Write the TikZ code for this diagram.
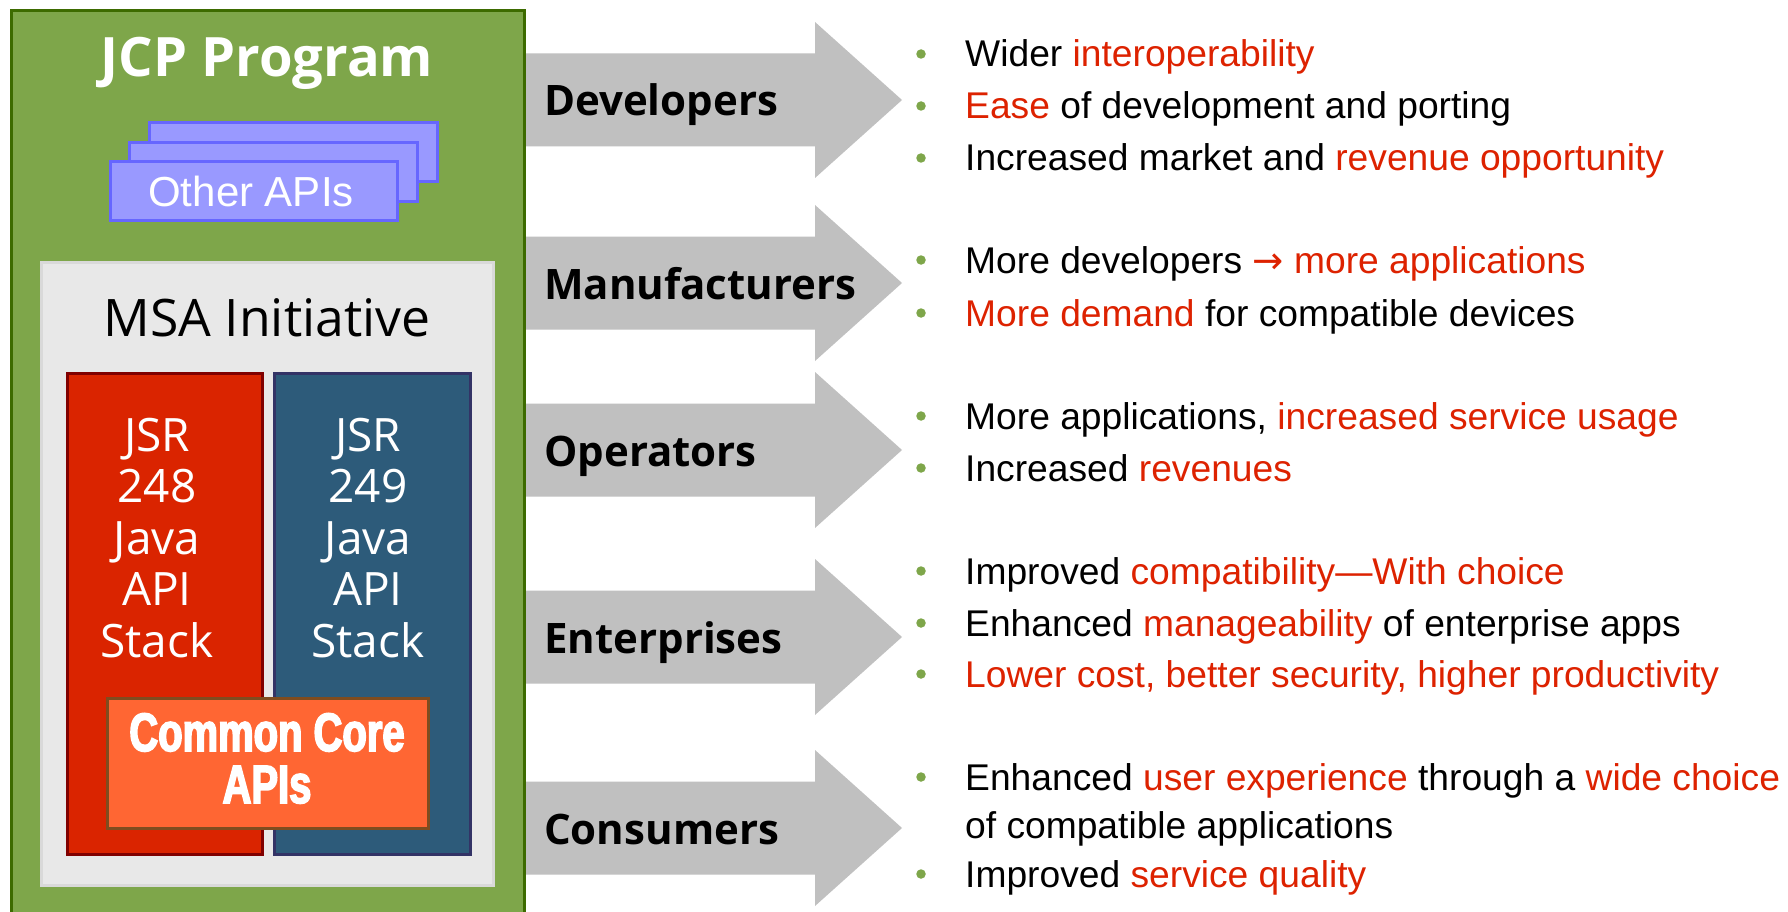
\documentclass[tikz,border=0pt]{standalone}
\usepackage{fontspec}
\setmainfont{Liberation Sans}
\newfontfamily\osans{Open Sans}
\newfontfamily\djv{DejaVu Sans}
\newfontfamily\impactish[BoldFeatures={FakeStretch=0.74,FakeBold=3}]{Liberation Sans}
\definecolor{jcpgreen}{HTML}{7EA64A}
\definecolor{jcpborder}{HTML}{3D6B00}
\definecolor{arrowgray}{HTML}{C0C0C0}
\definecolor{apifill}{HTML}{9999FF}
\definecolor{apiborder}{HTML}{6666FF}
\definecolor{msafill}{HTML}{E8E8E8}
\definecolor{msaborder}{HTML}{D9D9D9}
\definecolor{jsrred}{HTML}{DA2400}
\definecolor{jsrredb}{HTML}{800000}
\definecolor{jsrblue}{HTML}{2D5B7A}
\definecolor{jsrblueb}{HTML}{333366}
\definecolor{corefill}{HTML}{FF6633}
\definecolor{coreborder}{HTML}{7F4C1F}
\definecolor{txtred}{HTML}{DD2200}
\definecolor{dotgreen}{HTML}{7EA64A}
\tikzset{
  apibox/.style={fill=apifill, draw=apiborder, line width=3pt},
  lbl/.style={anchor=base west, inner sep=0pt, font=\osans\bfseries\fontsize{42}{48}\selectfont, text=black},
  bul/.style={anchor=base west, inner sep=0pt, font=\fontsize{37.2}{44}\selectfont, text=black},
  dotb/.style={circle, fill=dotgreen, inner sep=0pt, minimum size=9.5pt},
  jsrtxt/.style={anchor=base, inner sep=0pt, align=center, text=white, font=\osans\fontsize{46}{51.5}\selectfont}
}
\newcommand{\rd}[1]{\textcolor{txtred}{#1}}
\begin{document}
\begin{tikzpicture}[x=1pt,y=-1pt]
\useasboundingbox (0,0) rectangle (1788,912);
\fill[white] (0,0) rectangle (1788,912);
% arrows
\foreach \c/\lab/\nm in {100/Developers/dev, 283/Manufacturers/man, 450/Operators/op, 637/Enterprises/ent, 828/Consumers/con} {
  \fill[arrowgray] (520,\c-46.5) -- (815,\c-46.5) -- (815,\c-78) -- (902,\c) -- (815,\c+78) -- (815,\c+46.5) -- (520,\c+46.5) -- cycle;
  \node[lbl] (\nm) at (544,\c+16) {\lab};
}
% JCP box
\draw[fill=jcpgreen, draw=jcpborder, line width=3pt] (11,11) rectangle (524,940);
\node[anchor=base, inner sep=0pt, text=white, font=\osans\bfseries\fontsize{54.3}{60}\selectfont] (jcp) at (267,77) {JCP Program};
% other APIs
\draw[apibox] (149,123) rectangle (437,182);
\draw[apibox] (129,143) rectangle (417,202);
\draw[apibox] (110,162) rectangle (397,221);
\node[anchor=base, inner sep=0pt, text=white, font=\fontsize{42}{48}\selectfont] (other) at (251,207) {Other APIs};
% MSA
\draw[fill=msafill, draw=msaborder, line width=3pt] (41,262) rectangle (493,885);
\node[anchor=base, inner sep=0pt, text=black, font=\osans\fontsize{51.7}{60}\selectfont] (msa) at (267,336) {MSA Initiative};
\draw[fill=jsrred, draw=jsrredb, line width=3pt] (67,373) rectangle (262,854);
\draw[fill=jsrblue, draw=jsrblueb, line width=3pt] (274,373) rectangle (470,854);
\node[jsrtxt] (j248) at (157,657) {JSR\\248\\Java\\API\\Stack};
\node[jsrtxt] (j249) at (368,657) {JSR\\249\\Java\\API\\Stack};
\draw[fill=corefill, draw=coreborder, line width=3pt] (107,698) rectangle (428,828);
\node[anchor=base, inner sep=0pt, align=center, text=white, font=\impactish\bfseries\fontsize{54}{52}\selectfont] (core) at (267,803) {Common Core\\APIs};
% bullets
\foreach \y/\nm in {67/b1,119/b2,171/b3,273/b4,326/b5,429/b6,481/b7,584/b8,636/b9,687/b10,790/b11,887/b13} {
  \node[dotb] (d\nm) at (921,\y-13) {};
}
\node[bul] (b1) at (965,67) {Wider \rd{interoperability}};
\node[bul] (b2) at (965,119) {\rd{Ease} of development and porting};
\node[bul] (b3) at (965,171) {Increased market and \rd{revenue opportunity}};
\node[bul] (b4) at (965,273) {More developers \rd{{\djv →} more applications}};
\node[bul] (b5) at (965,326) {\rd{More demand} for compatible devices};
\node[bul] (b6) at (965,429) {More applications, \rd{increased service usage}};
\node[bul] (b7) at (965,481) {Increased \rd{revenues}};
\node[bul] (b8) at (965,584) {Improved \rd{compatibility—With choice}};
\node[bul] (b9) at (965,636) {Enhanced \rd{manageability} of enterprise apps};
\node[bul] (b10) at (965,687) {\rd{Lower cost, better security, higher productivity}};
\node[bul] (b11) at (965,790) {Enhanced \rd{user experience} through a \rd{wide choice}};
\node[bul] (b12) at (965,838) {of compatible applications};
\node[bul] (b13) at (965,887) {Improved \rd{service quality}};
\end{tikzpicture}
\end{document}
